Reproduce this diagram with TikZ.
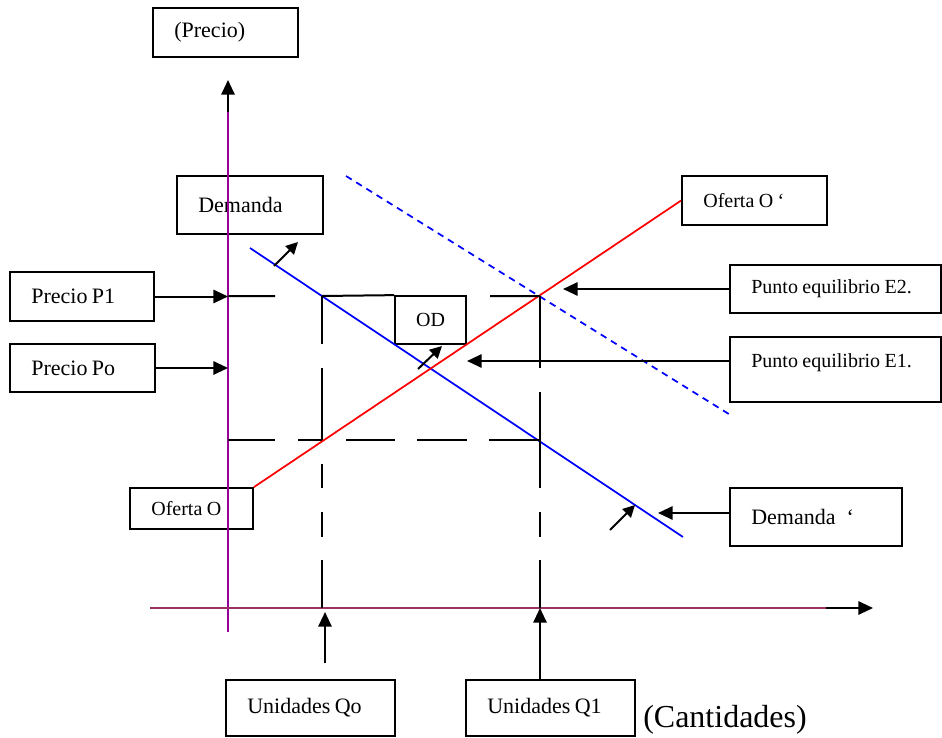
\documentclass[tikz,border=0pt]{standalone}
\usepackage{fontspec}
\setmainfont{Liberation Serif}
\usetikzlibrary{arrows.meta}
\newcommand\fbig{\fontsize{16.5}{19}\selectfont}
\newcommand\fsmall{\fontsize{15}{18}\selectfont}
\newcommand\fhuge{\fontsize{24}{28}\selectfont}
\definecolor{axisy}{HTML}{990099}
\definecolor{axisx}{HTML}{993366}
\begin{document}
\begin{tikzpicture}[x=0.75pt,y=-0.75pt,
  bx/.style={draw=black, line width=1.3pt, rectangle, inner xsep=16pt, inner ysep=0pt, align=left},
  guide/.style={draw=black, line width=1.5pt},
  pointer/.style={draw=black, line width=1.5pt, -{Triangle[length=11pt,width=10pt]}},
  tick/.style={draw=black, line width=1.5pt, -{Triangle[length=9pt,width=9pt]}},
  demandline/.style={draw=blue, line width=1.3pt},
  demandshift/.style={draw=blue, line width=1.3pt, dash pattern=on 5pt off 4pt},
  supplyline/.style={draw=red, line width=1.3pt}]
\useasboundingbox (0,0) rectangle (942,738);

% label boxes
\node[bx, text width=76.75pt, minimum height=36.75pt] (prec) at (225.5,32.5) {\fbig (Precio)};
\node[bx, text width=77.5pt, minimum height=43.5pt] (dem) at (250,205) {\fbig Demanda};
\node[bx, text width=76pt, minimum height=36.75pt] (p1) at (82,296.5) {\fbig Precio P1};
\node[bx, text width=76.75pt, minimum height=36pt] (po) at (82.5,368) {\fbig Precio Po};
\node[bx, inner xsep=0pt, align=center, minimum width=53.25pt, minimum height=36pt] (od) at (430.5,320) {\fsmall OD};
\node[bx, text width=76.75pt, minimum height=36.75pt] (ofp) at (754.5,200.5) {\fsmall Oferta O ‘};
\node[bx, text width=126.25pt, minimum height=36pt] (e2) at (835.5,289) {\fsmall Punto equilibrio E2.};
\node[bx, text width=126.25pt, minimum height=48.75pt, text height=11pt, text depth=14pt] (e1) at (835.5,369.5) {\fsmall Punto equilibrio E1.};
\node[bx, text width=60.25pt, minimum height=30.75pt] (ofo) at (191.5,508.5) {\fsmall Oferta O};
\node[bx, text width=97pt, minimum height=43.5pt] (demp) at (816,517) {\fbig Demanda\enspace ‘};
\node[bx, text width=94.75pt, minimum height=42pt] (uqo) at (310.5,708) {\fbig Unidades Qo};
\node[bx, text width=94.75pt, minimum height=42pt] (uq1) at (550.5,708) {\fbig Unidades Q1};
\node[anchor=west, inner sep=0pt] (cant) at (643,720) {\fhuge (Cantidades)};

% axes
\coordinate (ybot) at (228,632);
\coordinate (ytop) at (228,100);
\coordinate (yhead) at (228,80);
\coordinate (yhs) at (228,112);
\coordinate (xl) at (150,608);
\coordinate (xr) at (826,608);
\coordinate (xhead) at (873,608);
\draw[axisy, line width=1.5pt] (ybot) -- (ytop);
\draw[pointer] (yhs) -- (yhead);
\draw[axisx, line width=1.5pt] (xl) -- (xr);
\draw[pointer] (xr) -- (xhead);

% curves
\coordinate (d0) at (250,248);
\coordinate (d1) at (683,537);
\coordinate (ds0) at (346,176);
\coordinate (ds1) at (732,416);
\draw[demandline] (d0) -- (d1);
\draw[demandshift] (ds0) -- (ds1);
\draw[supplyline] (ofo.north east) -- (ofp.west);

% guide lines to the axes
\draw[guide] (228,296) -- (275,296) (322,296) -- (od.north west) (490,296) -- (540,296);
\draw[guide] (228,440) -- (275,440) (298,440) -- (322,440) (346,440) -- (395,440)
  (417,440) -- (467,440) (489,440) -- (540,440);
\draw[guide] (322,296) -- (322,344) (322,368) -- (322,440) (322,464) -- (322,488)
  (322,512) -- (322,537) (322,560) -- (322,608);
\draw[guide] (540,296) -- (540,368) (540,392) -- (540,488) (540,512) -- (540,537)
  (540,560) -- (540,608);

% pointers from the labels
\coordinate (p1tip) at (228,296.5);
\coordinate (potip) at (228,368);
\coordinate (e2tip) at (563,289);
\coordinate (e1tip) at (467,361);
\coordinate (dptip) at (658,513);
\coordinate (qotail) at (325,663);
\coordinate (qotip) at (325,612);
\coordinate (q1foot) at (540,680);
\coordinate (q1tip) at (540,608);
\draw[pointer] (p1.east) -- (p1tip);
\draw[pointer] (po.east) -- (potip);
\draw[pointer] (e2.west) -- (e2tip);
\draw[pointer] (e1.west |- e1tip) -- (e1tip);
\draw[pointer] (demp.west |- dptip) -- (dptip);
\draw[pointer] (qotail) -- (qotip);
\draw[pointer] (q1foot) -- (q1tip);

% shift markers
\coordinate (s1a) at (274,266);
\coordinate (s1b) at (298,242);
\coordinate (s2a) at (418,369);
\coordinate (s2b) at (442,346);
\coordinate (s3a) at (610,530);
\coordinate (s3b) at (635,505);
\draw[tick] (s1a) -- (s1b);
\draw[tick] (s2a) -- (s2b);
\draw[tick] (s3a) -- (s3b);
\end{tikzpicture}
\end{document}
